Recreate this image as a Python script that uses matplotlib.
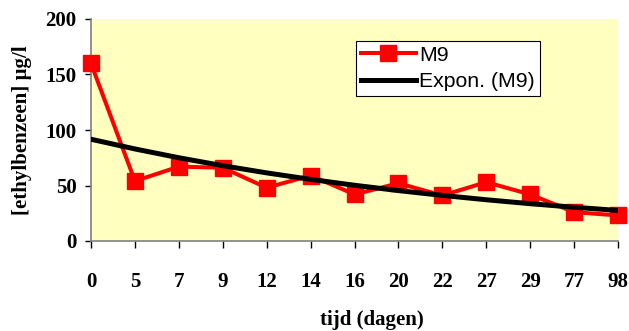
import matplotlib
matplotlib.use("Agg")
import matplotlib.pyplot as plt
import numpy as np

# data
days = ["0", "5", "7", "9", "12", "14", "16", "20", "22", "27", "29", "77", "98"]
m9 = [160, 54, 67, 66, 48, 59, 42, 52, 41, 53, 42, 26, 23]
yticks = [0, 50, 100, 150, 200]

BG = "#FFFFC0"
RED = "#FF0000"
AXIS = "#808080"
W, H = 629, 331

plt.rcParams["font.family"] = ["Liberation Serif", "DejaVu Serif"]

fig = plt.figure(figsize=(W / 100, H / 100), dpi=100, facecolor="white")
ax = fig.add_axes([91 / W, (H - 241) / H, (618 - 91) / W, (241 - 19) / H])
ax.set_facecolor(BG)

x = np.arange(len(days))
ax.plot(x, m9, color=RED, lw=2.9, marker="s", ms=11.3, mec=RED, mfc=RED,
        clip_on=False, zorder=3, label="M9")

# exponential trendline as Excel fits it (on category index 1..n)
idx = x + 1
b, a = np.polyfit(idx, np.log(m9), 1)
trend = np.exp(a + b * idx)
ax.plot(x, trend, color="black", lw=3.6, zorder=4, label="Expon. (M9)")

ax.set_xlim(0, len(days) - 1)
ax.set_ylim(0, 200)
ax.set_xticks(x)
ax.set_xticklabels(days)
ax.set_yticks(yticks)
for side in ["top", "right"]:
    ax.spines[side].set_visible(False)
for side in ["left", "bottom"]:
    ax.spines[side].set_color(AXIS)
    ax.spines[side].set_linewidth(1.2)
ax.tick_params(axis="x", direction="out", length=5, width=1, color="black",
               pad=17, labelsize=15)
ax.tick_params(axis="y", direction="out", length=4.5, width=1, color="black",
               pad=6, labelsize=15)
for lbl in ax.get_xticklabels() + ax.get_yticklabels():
    lbl.set_fontweight("bold")

fig.text(372 / W, 1 - 320 / H, "tijd (dagen)", ha="center", va="center",
         fontsize=15, fontweight="bold")
fig.text(22 / W, 1 - 130 / H, "[ethylbenzeen] \u00b5g/l", ha="center", va="center",
         rotation=90, fontsize=15, fontweight="bold")

leg = ax.legend(loc="upper left", bbox_to_anchor=((356 - 91) / (618 - 91), 1 - (41 - 19) / (241 - 19)),
                prop={"family": "Liberation Sans", "size": 15.3}, frameon=True, fancybox=False,
                edgecolor="black", facecolor="white", framealpha=1, borderpad=0.22,
                handlelength=2.6, handletextpad=0.15, labelspacing=0.35, borderaxespad=0,
                markerscale=1.0)
leg.get_frame().set_linewidth(0.8)

fig.savefig("out.png", dpi=100, facecolor="white")
